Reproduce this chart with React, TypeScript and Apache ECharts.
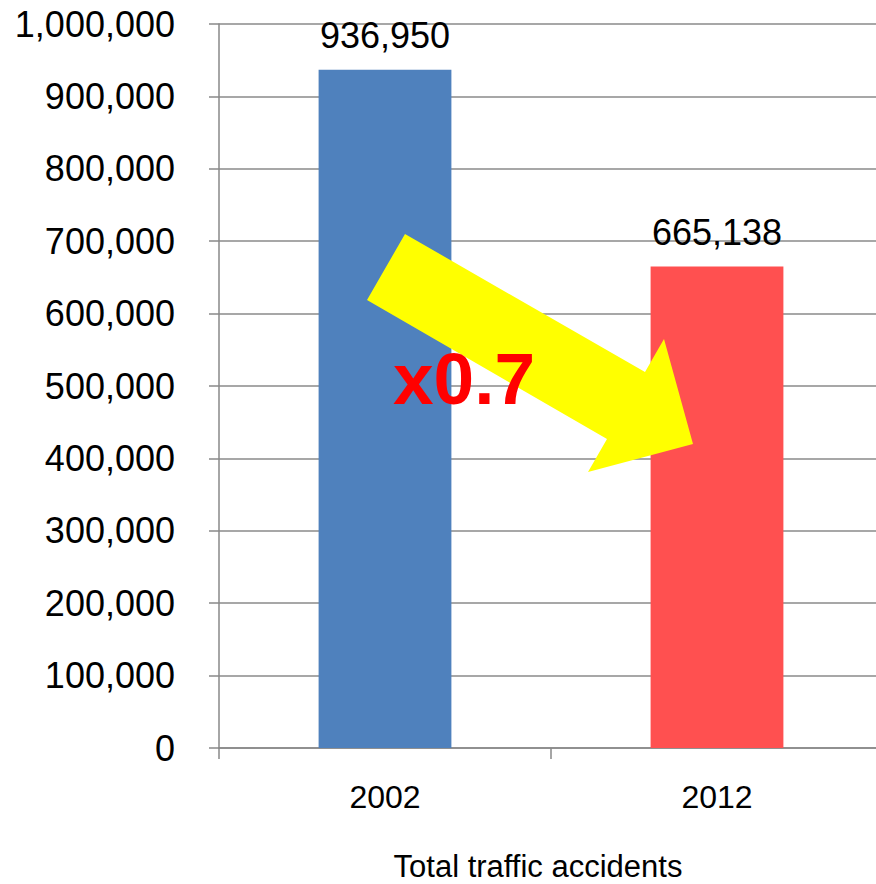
import React, { useEffect, useRef } from "react";
import * as echarts from "echarts";

const categories = ["2002", "2012"];
const accidents = [936950, 665138];
const barColors = ["#4F81BD", "#FF5050"];
const yTicks = { min: 0, max: 1000000, interval: 100000 };
const axisTitle = "Total traffic accidents";
const ratioText = "x0.7";

const FONT = "'Liberation Sans', Arial, Helvetica, sans-serif";
const fmt = (v: number) => v.toLocaleString("en-US");

export default function App() {
  const ref = useRef<HTMLDivElement>(null);
  useEffect(() => {
    if (!ref.current) return;
    const chart = echarts.init(ref.current, null, { renderer: "svg" });
    chart.setOption({
      animation: false,
      backgroundColor: "#ffffff",
      grid: {
        left: 219,
        top: 24,
        width: 664,
        height: 724,
        containLabel: false,
        outerBoundsMode: "none",
      },
      xAxis: {
        type: "category",
        data: categories,
        axisLine: { show: true, lineStyle: { color: "#888888", width: 1.5 } },
        axisTick: { show: true, length: 11, lineStyle: { color: "#888888", width: 1.5 } },
        axisLabel: { color: "#000000", fontSize: 32, fontFamily: FONT, margin: 33 },
        splitLine: { show: false },
      },
      yAxis: {
        type: "value",
        min: yTicks.min,
        max: yTicks.max,
        interval: yTicks.interval,
        axisLine: { show: true, lineStyle: { color: "#888888", width: 1.5 } },
        axisTick: { show: true, length: 10, lineStyle: { color: "#888888", width: 1.5 } },
        axisLabel: {
          color: "#000000",
          fontSize: 36,
          fontFamily: FONT,
          margin: 44,
          formatter: (v: number) => fmt(v),
        },
        splitLine: { show: true, lineStyle: { color: "#8a8a8a", width: 1.5 } },
      },
      series: [
        {
          type: "bar",
          barWidth: "40%",
          data: accidents.map((v, i) => ({ value: v, itemStyle: { color: barColors[i] } })),
          label: {
            show: true,
            position: "top",
            distance: 16,
            color: "#000000",
            fontSize: 36,
            fontFamily: FONT,
            formatter: (p: any) => fmt(p.value),
          },
        },
      ],
      graphic: [
        {
          type: "polygon",
          z: 10,
          shape: {
            points: [
              [405, 234],
              [645, 372],
              [664, 339],
              [693, 444],
              [588, 472],
              [607, 439],
              [367, 300],
            ],
          },
          style: { fill: "#FFFF00", stroke: "none" },
        },
        {
          type: "text",
          z: 11,
          x: 393,
          y: 378,
          style: {
            text: ratioText,
            fill: "#FF0000",
            font: `bold 73px ${FONT}`,
            textAlign: "left",
            textVerticalAlign: "middle",
          },
        },
        {
          type: "text",
          z: 11,
          x: 538,
          y: 866,
          style: {
            text: axisTitle,
            fill: "#000000",
            font: `31px ${FONT}`,
            textAlign: "center",
            textVerticalAlign: "middle",
          },
        },
      ],
    });
    return () => chart.dispose();
  }, []);
  return (
    <div
      ref={ref}
      style={{ position: "fixed", left: 0, top: 0, width: 876, height: 884 }}
    />
  );
}
